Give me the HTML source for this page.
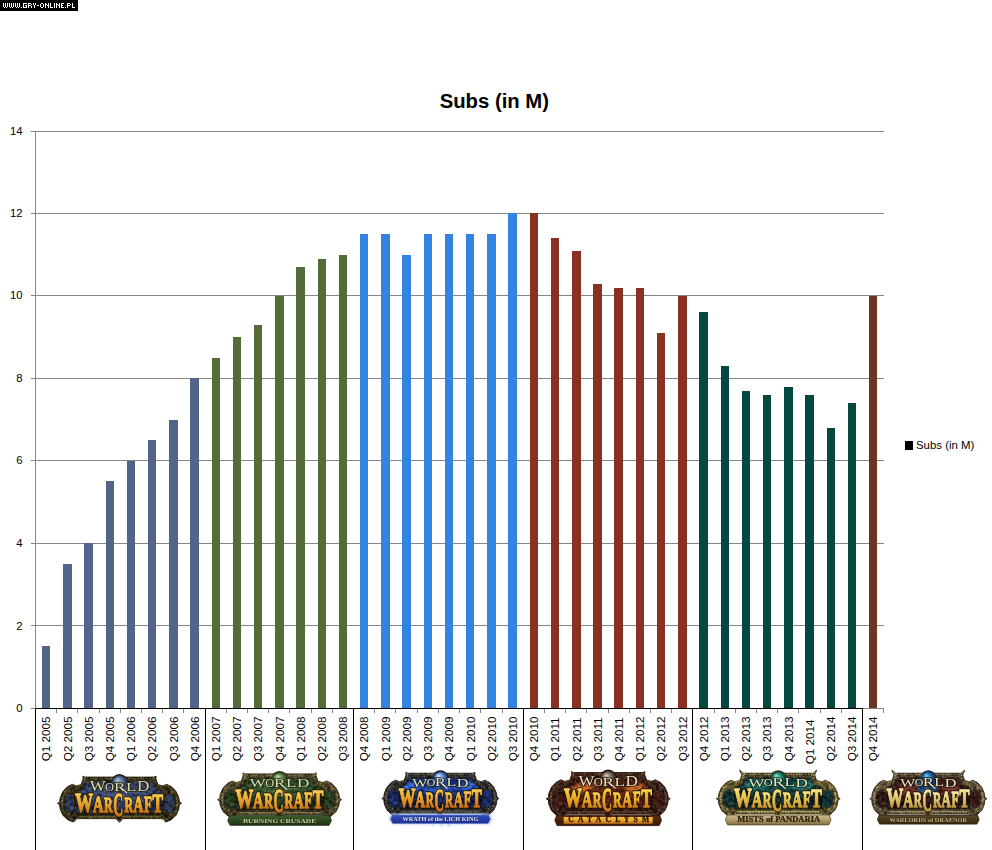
<!DOCTYPE html>
<html><head><meta charset="utf-8"><title>Subs (in M)</title>
<style>
html,body{margin:0;padding:0;background:#fff;}
body{width:992px;height:850px;overflow:hidden;font-family:"Liberation Sans",sans-serif;}
svg{display:block;}
text{font-family:"Liberation Sans",sans-serif;}
.ser, .ser text{font-family:"Liberation Serif",serif;}
</style></head><body>
<svg width="992" height="850" viewBox="0 0 992 850">
<defs><filter id="soft" x="-5%" y="-10%" width="110%" height="120%"><feGaussianBlur stdDeviation="0.5"/></filter><filter id="b1" x="-30%" y="-30%" width="160%" height="160%"><feGaussianBlur stdDeviation="1.2"/></filter><filter id="nz" x="0" y="0" width="100%" height="100%"><feTurbulence type="fractalNoise" baseFrequency="0.28 0.3" numOctaves="2" seed="7" result="n"/><feColorMatrix in="n" type="matrix" values="0 0 0 0 0  0 0 0 0 0  0 0 0 0 0  2.6 0 0 0 -0.95"/><feComposite in2="SourceAlpha" operator="in"/></filter><filter id="nz2" x="0" y="0" width="100%" height="100%"><feTurbulence type="fractalNoise" baseFrequency="0.33 0.3" numOctaves="2" seed="23" result="n"/><feColorMatrix in="n" type="matrix" values="0 0 0 0 1  0 0 0 0 1  0 0 0 0 1  0 2.6 0 0 -1.05"/><feComposite in2="SourceAlpha" operator="in"/></filter><filter id="b2" x="-30%" y="-30%" width="160%" height="160%"><feGaussianBlur stdDeviation="2.2"/></filter><linearGradient id="L1gold" x1="0" y1="0" x2="0" y2="1"><stop offset="0" stop-color="#fae288"/><stop offset="0.3" stop-color="#f2c040"/><stop offset="0.65" stop-color="#dc9222"/><stop offset="1" stop-color="#a05214"/></linearGradient><radialGradient id="L1field" cx="0.5" cy="0.32" r="0.62"><stop offset="0" stop-color="#4a5e90"/><stop offset="0.55" stop-color="#344472"/><stop offset="1" stop-color="#1a2240"/></radialGradient><linearGradient id="L1frame" x1="0" y1="0" x2="0" y2="1"><stop offset="0" stop-color="#3e3418"/><stop offset="0.5" stop-color="#2f2711"/><stop offset="1" stop-color="#28200d"/></linearGradient><radialGradient id="L1globe" cx="0.5" cy="0.5" r="0.5" fx="0.35" fy="0.28"><stop offset="0" stop-color="#b9c7dc"/><stop offset="0.5" stop-color="#62799f"/><stop offset="1" stop-color="#26324e"/></radialGradient><linearGradient id="L2gold" x1="0" y1="0" x2="0" y2="1"><stop offset="0" stop-color="#fae288"/><stop offset="0.3" stop-color="#f2c040"/><stop offset="0.65" stop-color="#dc9222"/><stop offset="1" stop-color="#a05214"/></linearGradient><radialGradient id="L2field" cx="0.5" cy="0.32" r="0.62"><stop offset="0" stop-color="#4c7636"/><stop offset="0.55" stop-color="#2a4c22"/><stop offset="1" stop-color="#12240d"/></radialGradient><linearGradient id="L2frame" x1="0" y1="0" x2="0" y2="1"><stop offset="0" stop-color="#5e5230"/><stop offset="0.5" stop-color="#4c4224"/><stop offset="1" stop-color="#3a321a"/></linearGradient><radialGradient id="L2globe" cx="0.5" cy="0.5" r="0.5" fx="0.35" fy="0.28"><stop offset="0" stop-color="#c6d8ae"/><stop offset="0.5" stop-color="#688c52"/><stop offset="1" stop-color="#26401e"/></radialGradient><linearGradient id="L2ban" x1="0" y1="0" x2="0" y2="1"><stop offset="0" stop-color="#3f602d"/><stop offset="1" stop-color="#1f3317"/></linearGradient><linearGradient id="L3gold" x1="0" y1="0" x2="0" y2="1"><stop offset="0" stop-color="#fae288"/><stop offset="0.3" stop-color="#f2bc40"/><stop offset="0.65" stop-color="#dc8a20"/><stop offset="1" stop-color="#a44e14"/></linearGradient><radialGradient id="L3field" cx="0.5" cy="0.32" r="0.62"><stop offset="0" stop-color="#2048b4"/><stop offset="0.5" stop-color="#122a7c"/><stop offset="1" stop-color="#0a133e"/></radialGradient><linearGradient id="L3frame" x1="0" y1="0" x2="0" y2="1"><stop offset="0" stop-color="#36322a"/><stop offset="0.5" stop-color="#2a2620"/><stop offset="1" stop-color="#201d19"/></linearGradient><radialGradient id="L3globe" cx="0.5" cy="0.5" r="0.5" fx="0.35" fy="0.28"><stop offset="0" stop-color="#e2ecff"/><stop offset="0.5" stop-color="#6a96dc"/><stop offset="1" stop-color="#1a357a"/></radialGradient><linearGradient id="L3ban" x1="0" y1="0" x2="0" y2="1"><stop offset="0" stop-color="#3352c0"/><stop offset="1" stop-color="#1b2c8c"/></linearGradient><linearGradient id="L4gold" x1="0" y1="0" x2="0" y2="1"><stop offset="0" stop-color="#fbe67c"/><stop offset="0.3" stop-color="#f4c638"/><stop offset="0.65" stop-color="#e0961c"/><stop offset="1" stop-color="#a65414"/></linearGradient><radialGradient id="L4field" cx="0.5" cy="0.32" r="0.62"><stop offset="0" stop-color="#7a2a12"/><stop offset="0.55" stop-color="#4e190c"/><stop offset="1" stop-color="#260c07"/></radialGradient><linearGradient id="L4frame" x1="0" y1="0" x2="0" y2="1"><stop offset="0" stop-color="#472614"/><stop offset="0.5" stop-color="#381c0f"/><stop offset="1" stop-color="#2b150b"/></linearGradient><radialGradient id="L4globe" cx="0.5" cy="0.5" r="0.5" fx="0.35" fy="0.28"><stop offset="0" stop-color="#d8d0c8"/><stop offset="0.5" stop-color="#80726a"/><stop offset="1" stop-color="#342824"/></radialGradient><linearGradient id="L4ban" x1="0" y1="0" x2="0" y2="1"><stop offset="0" stop-color="#5a2a10"/><stop offset="1" stop-color="#3a1808"/></linearGradient><linearGradient id="L4bani" x1="0" y1="0" x2="0" y2="1"><stop offset="0" stop-color="#f6c24a"/><stop offset="0.5" stop-color="#e8a22a"/><stop offset="1" stop-color="#b86a18"/></linearGradient><linearGradient id="L5gold" x1="0" y1="0" x2="0" y2="1"><stop offset="0" stop-color="#fff2b0"/><stop offset="0.35" stop-color="#f0d460"/><stop offset="0.7" stop-color="#d6a638"/><stop offset="1" stop-color="#967020"/></linearGradient><radialGradient id="L5field" cx="0.5" cy="0.32" r="0.62"><stop offset="0" stop-color="#14564f"/><stop offset="0.5" stop-color="#0a3637"/><stop offset="1" stop-color="#051a1c"/></radialGradient><linearGradient id="L5frame" x1="0" y1="0" x2="0" y2="1"><stop offset="0" stop-color="#463c1e"/><stop offset="0.3" stop-color="#6e5e2e"/><stop offset="1" stop-color="#54461f"/></linearGradient><radialGradient id="L5globe" cx="0.5" cy="0.5" r="0.5" fx="0.35" fy="0.28"><stop offset="0" stop-color="#98e8cc"/><stop offset="0.5" stop-color="#279680"/><stop offset="1" stop-color="#0a3c34"/></radialGradient><linearGradient id="L5ban" x1="0" y1="0" x2="0" y2="1"><stop offset="0" stop-color="#cdbb8c"/><stop offset="0.5" stop-color="#b29c6a"/><stop offset="1" stop-color="#806c42"/></linearGradient><linearGradient id="L6gold" x1="0" y1="0" x2="0" y2="1"><stop offset="0" stop-color="#fff6c4"/><stop offset="0.35" stop-color="#ecd884"/><stop offset="0.7" stop-color="#cfaa52"/><stop offset="1" stop-color="#8a6a2c"/></linearGradient><radialGradient id="L6field" cx="0.5" cy="0.32" r="0.62"><stop offset="0" stop-color="#5e261e"/><stop offset="0.55" stop-color="#3e1712"/><stop offset="1" stop-color="#1e0b09"/></radialGradient><linearGradient id="L6frame" x1="0" y1="0" x2="0" y2="1"><stop offset="0" stop-color="#463822"/><stop offset="0.3" stop-color="#6e5c38"/><stop offset="1" stop-color="#504026"/></linearGradient><radialGradient id="L6globe" cx="0.5" cy="0.5" r="0.5" fx="0.35" fy="0.28"><stop offset="0" stop-color="#80c8ec"/><stop offset="0.5" stop-color="#1a6ca4"/><stop offset="1" stop-color="#0a2c50"/></radialGradient><linearGradient id="L6ban" x1="0" y1="0" x2="0" y2="1"><stop offset="0" stop-color="#5c4a2c"/><stop offset="1" stop-color="#352810"/></linearGradient></defs>
<rect x="0" y="0" width="992" height="850" fill="#ffffff"/>
<g shape-rendering="crispEdges" stroke="#868686" stroke-width="1">
<line x1="31" y1="625.5" x2="884" y2="625.5"/>
<line x1="31" y1="543.5" x2="884" y2="543.5"/>
<line x1="31" y1="460.5" x2="884" y2="460.5"/>
<line x1="31" y1="378.5" x2="884" y2="378.5"/>
<line x1="31" y1="295.5" x2="884" y2="295.5"/>
<line x1="31" y1="213.5" x2="884" y2="213.5"/>
<line x1="31" y1="131.5" x2="884" y2="131.5"/>
<line x1="35.5" y1="131" x2="35.5" y2="708"/>
</g>
<g shape-rendering="crispEdges">
<rect x="42" y="646" width="8" height="62" fill="#53648a"/>
<rect x="63" y="564" width="9" height="144" fill="#53648a"/>
<rect x="84" y="543" width="9" height="165" fill="#53648a"/>
<rect x="106" y="481" width="8" height="227" fill="#53648a"/>
<rect x="127" y="461" width="8" height="247" fill="#53648a"/>
<rect x="148" y="440" width="8" height="268" fill="#53648a"/>
<rect x="169" y="420" width="9" height="288" fill="#53648a"/>
<rect x="190" y="378" width="9" height="330" fill="#53648a"/>
<rect x="212" y="358" width="8" height="350" fill="#536c39"/>
<rect x="233" y="337" width="8" height="371" fill="#536c39"/>
<rect x="254" y="325" width="8" height="383" fill="#536c39"/>
<rect x="275" y="296" width="9" height="412" fill="#536c39"/>
<rect x="296" y="267" width="9" height="441" fill="#536c39"/>
<rect x="318" y="259" width="8" height="449" fill="#536c39"/>
<rect x="339" y="255" width="8" height="453" fill="#536c39"/>
<rect x="360" y="234" width="8" height="474" fill="#3384e2"/>
<rect x="381" y="234" width="9" height="474" fill="#3384e2"/>
<rect x="402" y="255" width="9" height="453" fill="#3384e2"/>
<rect x="424" y="234" width="8" height="474" fill="#3384e2"/>
<rect x="445" y="234" width="8" height="474" fill="#3384e2"/>
<rect x="466" y="234" width="8" height="474" fill="#3384e2"/>
<rect x="487" y="234" width="9" height="474" fill="#3384e2"/>
<rect x="508" y="213" width="9" height="495" fill="#3384e2"/>
<rect x="530" y="213" width="8" height="495" fill="#8a3125"/>
<rect x="551" y="238" width="8" height="470" fill="#8a3125"/>
<rect x="572" y="251" width="9" height="457" fill="#8a3125"/>
<rect x="593" y="284" width="9" height="424" fill="#8a3125"/>
<rect x="614" y="288" width="9" height="420" fill="#8a3125"/>
<rect x="636" y="288" width="8" height="420" fill="#8a3125"/>
<rect x="657" y="333" width="8" height="375" fill="#8a3125"/>
<rect x="678" y="296" width="9" height="412" fill="#8a3125"/>
<rect x="699" y="312" width="9" height="396" fill="#04483f"/>
<rect x="721" y="366" width="8" height="342" fill="#04483f"/>
<rect x="742" y="391" width="8" height="317" fill="#04483f"/>
<rect x="763" y="395" width="8" height="313" fill="#04483f"/>
<rect x="784" y="387" width="9" height="321" fill="#04483f"/>
<rect x="805" y="395" width="9" height="313" fill="#04483f"/>
<rect x="827" y="428" width="8" height="280" fill="#04483f"/>
<rect x="848" y="403" width="8" height="305" fill="#04483f"/>
<rect x="869" y="296" width="8" height="412" fill="#6b3525"/>
</g>
<g shape-rendering="crispEdges">
<g stroke="#868686" stroke-width="1">
<line x1="35.5" y1="708" x2="35.5" y2="713"/>
<line x1="56.5" y1="708" x2="56.5" y2="713"/>
<line x1="77.5" y1="708" x2="77.5" y2="713"/>
<line x1="99.5" y1="708" x2="99.5" y2="713"/>
<line x1="120.5" y1="708" x2="120.5" y2="713"/>
<line x1="141.5" y1="708" x2="141.5" y2="713"/>
<line x1="162.5" y1="708" x2="162.5" y2="713"/>
<line x1="183.5" y1="708" x2="183.5" y2="713"/>
<line x1="205.5" y1="708" x2="205.5" y2="713"/>
<line x1="226.5" y1="708" x2="226.5" y2="713"/>
<line x1="247.5" y1="708" x2="247.5" y2="713"/>
<line x1="268.5" y1="708" x2="268.5" y2="713"/>
<line x1="289.5" y1="708" x2="289.5" y2="713"/>
<line x1="311.5" y1="708" x2="311.5" y2="713"/>
<line x1="332.5" y1="708" x2="332.5" y2="713"/>
<line x1="353.5" y1="708" x2="353.5" y2="713"/>
<line x1="374.5" y1="708" x2="374.5" y2="713"/>
<line x1="395.5" y1="708" x2="395.5" y2="713"/>
<line x1="417.5" y1="708" x2="417.5" y2="713"/>
<line x1="438.5" y1="708" x2="438.5" y2="713"/>
<line x1="459.5" y1="708" x2="459.5" y2="713"/>
<line x1="480.5" y1="708" x2="480.5" y2="713"/>
<line x1="502.5" y1="708" x2="502.5" y2="713"/>
<line x1="523.5" y1="708" x2="523.5" y2="713"/>
<line x1="544.5" y1="708" x2="544.5" y2="713"/>
<line x1="565.5" y1="708" x2="565.5" y2="713"/>
<line x1="586.5" y1="708" x2="586.5" y2="713"/>
<line x1="608.5" y1="708" x2="608.5" y2="713"/>
<line x1="629.5" y1="708" x2="629.5" y2="713"/>
<line x1="650.5" y1="708" x2="650.5" y2="713"/>
<line x1="671.5" y1="708" x2="671.5" y2="713"/>
<line x1="692.5" y1="708" x2="692.5" y2="713"/>
<line x1="714.5" y1="708" x2="714.5" y2="713"/>
<line x1="735.5" y1="708" x2="735.5" y2="713"/>
<line x1="756.5" y1="708" x2="756.5" y2="713"/>
<line x1="777.5" y1="708" x2="777.5" y2="713"/>
<line x1="798.5" y1="708" x2="798.5" y2="713"/>
<line x1="820.5" y1="708" x2="820.5" y2="713"/>
<line x1="841.5" y1="708" x2="841.5" y2="713"/>
<line x1="862.5" y1="708" x2="862.5" y2="713"/>
<line x1="883.5" y1="708" x2="883.5" y2="713"/>
</g>
<line x1="31" y1="708.5" x2="35" y2="708.5" stroke="#868686" stroke-width="1"/>
<line x1="35" y1="708.5" x2="884" y2="708.5" stroke="#868686" stroke-width="1"/>
<line x1="35" y1="708.5" x2="863" y2="708.5" stroke="#000" stroke-width="1"/>
<line x1="35.5" y1="708" x2="35.5" y2="850" stroke="#000" stroke-width="1"/>
<line x1="205.5" y1="708" x2="205.5" y2="850" stroke="#000" stroke-width="1"/>
<line x1="353.5" y1="708" x2="353.5" y2="850" stroke="#000" stroke-width="1"/>
<line x1="523.5" y1="708" x2="523.5" y2="850" stroke="#000" stroke-width="1"/>
<line x1="692.5" y1="708" x2="692.5" y2="850" stroke="#000" stroke-width="1"/>
<line x1="862.5" y1="708" x2="862.5" y2="850" stroke="#000" stroke-width="1"/>
</g>
<g font-size="11.3" fill="#000" text-anchor="end">
<text x="22.6" y="712.4">0</text>
<text x="22.6" y="630.1999999999999">2</text>
<text x="22.6" y="547.4">4</text>
<text x="22.6" y="464.4">6</text>
<text x="22.6" y="382.4">8</text>
<text x="22.6" y="299.4">10</text>
<text x="22.6" y="217.4">12</text>
<text x="22.6" y="135.4">14</text>
</g>
<g font-size="11.65" fill="#000">
<text transform="translate(50.40 761.3) rotate(-90)">Q1 2005</text>
<text transform="translate(71.61 761.3) rotate(-90)">Q2 2005</text>
<text transform="translate(92.81 761.3) rotate(-90)">Q3 2005</text>
<text transform="translate(114.02 761.3) rotate(-90)">Q4 2005</text>
<text transform="translate(135.22 761.3) rotate(-90)">Q1 2006</text>
<text transform="translate(156.43 761.3) rotate(-90)">Q2 2006</text>
<text transform="translate(177.63 761.3) rotate(-90)">Q3 2006</text>
<text transform="translate(198.84 761.3) rotate(-90)">Q4 2006</text>
<text transform="translate(220.04 761.3) rotate(-90)">Q1 2007</text>
<text transform="translate(241.25 761.3) rotate(-90)">Q2 2007</text>
<text transform="translate(262.45 761.3) rotate(-90)">Q3 2007</text>
<text transform="translate(283.66 761.3) rotate(-90)">Q4 2007</text>
<text transform="translate(304.86 761.3) rotate(-90)">Q1 2008</text>
<text transform="translate(326.07 761.3) rotate(-90)">Q2 2008</text>
<text transform="translate(347.27 761.3) rotate(-90)">Q3 2008</text>
<text transform="translate(368.48 761.3) rotate(-90)">Q4 2008</text>
<text transform="translate(389.68 761.3) rotate(-90)">Q1 2009</text>
<text transform="translate(410.89 761.3) rotate(-90)">Q2 2009</text>
<text transform="translate(432.09 761.3) rotate(-90)">Q3 2009</text>
<text transform="translate(453.30 761.3) rotate(-90)">Q4 2009</text>
<text transform="translate(474.50 761.3) rotate(-90)">Q1 2010</text>
<text transform="translate(495.71 761.3) rotate(-90)">Q2 2010</text>
<text transform="translate(516.91 761.3) rotate(-90)">Q3 2010</text>
<text transform="translate(538.12 761.3) rotate(-90)">Q4 2010</text>
<text transform="translate(559.32 761.3) rotate(-90)">Q1 2011</text>
<text transform="translate(580.53 761.3) rotate(-90)">Q2 2011</text>
<text transform="translate(601.73 761.3) rotate(-90)">Q3 2011</text>
<text transform="translate(622.94 761.3) rotate(-90)">Q4 2011</text>
<text transform="translate(644.14 761.3) rotate(-90)">Q1 2012</text>
<text transform="translate(665.35 761.3) rotate(-90)">Q2 2012</text>
<text transform="translate(686.55 761.3) rotate(-90)">Q3 2012</text>
<text transform="translate(707.76 761.3) rotate(-90)">Q4 2012</text>
<text transform="translate(728.96 761.3) rotate(-90)">Q1 2013</text>
<text transform="translate(750.17 761.3) rotate(-90)">Q2 2013</text>
<text transform="translate(771.37 761.3) rotate(-90)">Q3 2013</text>
<text transform="translate(792.58 761.3) rotate(-90)">Q4 2013</text>
<text transform="translate(813.78 764.3) rotate(-90)">Q1 2014</text>
<text transform="translate(834.99 761.3) rotate(-90)">Q2 2014</text>
<text transform="translate(856.19 761.3) rotate(-90)">Q3 2014</text>
<text transform="translate(877.40 761.3) rotate(-90)">Q4 2014</text>
</g>
<text x="494.3" y="107.8" font-size="20.3" font-weight="bold" text-anchor="middle" fill="#000">Subs (in M)</text>
<rect x="905" y="441" width="8" height="9" fill="#000" shape-rendering="crispEdges"/>
<text x="916" y="448.7" font-size="11.4" fill="#000">Subs (in M)</text>
<rect x="0" y="0" width="78" height="11" fill="#000" shape-rendering="crispEdges"/>
<path d="M3 3h1v1h-1zM5 3h1v1h-1zM7 3h1v1h-1zM3 4h1v1h-1zM5 4h1v1h-1zM7 4h1v1h-1zM3 5h1v1h-1zM5 5h1v1h-1zM7 5h1v1h-1zM3 6h1v1h-1zM5 6h1v1h-1zM7 6h1v1h-1zM4 7h1v1h-1zM6 7h1v1h-1zM9 3h1v1h-1zM11 3h1v1h-1zM13 3h1v1h-1zM9 4h1v1h-1zM11 4h1v1h-1zM13 4h1v1h-1zM9 5h1v1h-1zM11 5h1v1h-1zM13 5h1v1h-1zM9 6h1v1h-1zM11 6h1v1h-1zM13 6h1v1h-1zM10 7h1v1h-1zM12 7h1v1h-1zM15 3h1v1h-1zM17 3h1v1h-1zM19 3h1v1h-1zM15 4h1v1h-1zM17 4h1v1h-1zM19 4h1v1h-1zM15 5h1v1h-1zM17 5h1v1h-1zM19 5h1v1h-1zM15 6h1v1h-1zM17 6h1v1h-1zM19 6h1v1h-1zM16 7h1v1h-1zM18 7h1v1h-1zM21 7h1v1h-1zM23 3h1v1h-1zM24 3h1v1h-1zM25 3h1v1h-1zM26 3h1v1h-1zM23 4h1v1h-1zM23 5h1v1h-1zM25 5h1v1h-1zM26 5h1v1h-1zM23 6h1v1h-1zM26 6h1v1h-1zM23 7h1v1h-1zM24 7h1v1h-1zM25 7h1v1h-1zM26 7h1v1h-1zM28 3h1v1h-1zM29 3h1v1h-1zM30 3h1v1h-1zM28 4h1v1h-1zM31 4h1v1h-1zM28 5h1v1h-1zM29 5h1v1h-1zM30 5h1v1h-1zM28 6h1v1h-1zM31 6h1v1h-1zM28 7h1v1h-1zM31 7h1v1h-1zM33 3h1v1h-1zM35 3h1v1h-1zM33 4h1v1h-1zM35 4h1v1h-1zM34 5h1v1h-1zM34 6h1v1h-1zM34 7h1v1h-1zM37 5h1v1h-1zM38 5h1v1h-1zM41 3h1v1h-1zM42 3h1v1h-1zM40 4h1v1h-1zM43 4h1v1h-1zM40 5h1v1h-1zM43 5h1v1h-1zM40 6h1v1h-1zM43 6h1v1h-1zM41 7h1v1h-1zM42 7h1v1h-1zM45 3h1v1h-1zM48 3h1v1h-1zM45 4h1v1h-1zM46 4h1v1h-1zM48 4h1v1h-1zM45 5h1v1h-1zM47 5h1v1h-1zM48 5h1v1h-1zM45 6h1v1h-1zM48 6h1v1h-1zM45 7h1v1h-1zM48 7h1v1h-1zM50 3h1v1h-1zM50 4h1v1h-1zM50 5h1v1h-1zM50 6h1v1h-1zM50 7h1v1h-1zM51 7h1v1h-1zM52 7h1v1h-1zM54 3h1v1h-1zM54 4h1v1h-1zM54 5h1v1h-1zM54 6h1v1h-1zM54 7h1v1h-1zM56 3h1v1h-1zM59 3h1v1h-1zM56 4h1v1h-1zM57 4h1v1h-1zM59 4h1v1h-1zM56 5h1v1h-1zM58 5h1v1h-1zM59 5h1v1h-1zM56 6h1v1h-1zM59 6h1v1h-1zM56 7h1v1h-1zM59 7h1v1h-1zM61 3h1v1h-1zM62 3h1v1h-1zM63 3h1v1h-1zM61 4h1v1h-1zM61 5h1v1h-1zM62 5h1v1h-1zM61 6h1v1h-1zM61 7h1v1h-1zM62 7h1v1h-1zM63 7h1v1h-1zM65 7h1v1h-1zM67 3h1v1h-1zM68 3h1v1h-1zM69 3h1v1h-1zM67 4h1v1h-1zM70 4h1v1h-1zM67 5h1v1h-1zM68 5h1v1h-1zM69 5h1v1h-1zM67 6h1v1h-1zM67 7h1v1h-1zM72 3h1v1h-1zM72 4h1v1h-1zM72 5h1v1h-1zM72 6h1v1h-1zM72 7h1v1h-1zM73 7h1v1h-1zM74 7h1v1h-1z" fill="#fff" shape-rendering="crispEdges"/>
<g transform="translate(119.5 777.1) scale(1.0 1.0)" filter="url(#soft)">
<circle cx="0" cy="5.8" r="8.8" fill="#231c0b"/>
<path d="M0.0 0.0 L34.6 0.0 L36.6 -1.0 L36.4 1.8 L38.4 7.6 L43.5 8.8 L47.2 7.2 L52.0 9.6 L56.6 14.5 L59.3 20.6 L59.9 25.0 L62.0 26.2 L59.9 27.4 L59.3 32.0 L56.6 38.2 L51.5 42.8 L46.0 45.0 L44.2 42.0 L41.0 41.5 L3.4 41.5 L0.0 45.2 L-3.4 41.5 L-41.0 41.5 L-44.2 42.0 L-46.0 45.0 L-51.5 42.8 L-56.6 38.2 L-59.3 32.0 L-59.9 27.4 L-62.0 26.2 L-59.9 25.0 L-59.3 20.6 L-56.6 14.5 L-52.0 9.6 L-47.2 7.2 L-43.5 8.8 L-38.4 7.6 L-36.4 1.8 L-36.6 -1.0 L-34.6 0.0 Z" fill="url(#L1frame)" stroke="#231c0b" stroke-width="0.9" stroke-linejoin="round"/>
<path d="M0.0 0.0 L34.6 0.0 L36.6 -1.0 L36.4 1.8 L38.4 7.6 L43.5 8.8 L47.2 7.2 L52.0 9.6 L56.6 14.5 L59.3 20.6 L59.9 25.0 L62.0 26.2 L59.9 27.4 L59.3 32.0 L56.6 38.2 L51.5 42.8 L46.0 45.0 L44.2 42.0 L41.0 41.5 L3.4 41.5 L0.0 45.2 L-3.4 41.5 L-41.0 41.5 L-44.2 42.0 L-46.0 45.0 L-51.5 42.8 L-56.6 38.2 L-59.3 32.0 L-59.9 27.4 L-62.0 26.2 L-59.9 25.0 L-59.3 20.6 L-56.6 14.5 L-52.0 9.6 L-47.2 7.2 L-43.5 8.8 L-38.4 7.6 L-36.4 1.8 L-36.6 -1.0 L-34.6 0.0 Z" fill="none" stroke="#85733a" stroke-width="1.3" stroke-dasharray="1.7 1.4" transform="translate(0 1.15) scale(0.96 0.945)" opacity="0.75"/>
<ellipse cx="-53.2" cy="26.3" rx="4.4" ry="12.2" fill="none" stroke="#85733a" stroke-width="1.6" stroke-dasharray="2 1.2" opacity="0.675"/>
<ellipse cx="-49.6" cy="26.3" rx="5.6" ry="9.6" fill="#2c3a62" stroke="#231c0b" stroke-width="0.9"/>
<ellipse cx="53.2" cy="26.3" rx="4.4" ry="12.2" fill="none" stroke="#85733a" stroke-width="1.6" stroke-dasharray="2 1.2" opacity="0.675"/>
<ellipse cx="49.6" cy="26.3" rx="5.6" ry="9.6" fill="#2c3a62" stroke="#231c0b" stroke-width="0.9"/>
<path d="M0.0 4.4 L32.2 4.4 L33.6 6.0 L36.4 12.2 L42.4 13.6 L44.6 15.6 L45.0 36.6 L0.0 36.6 L-45.0 36.6 L-44.6 15.6 L-42.4 13.6 L-36.4 12.2 L-33.6 6.0 L-32.2 4.4 Z" fill="url(#L1field)" stroke="#231c0b" stroke-width="1.0"/>
<path d="M0.0 0.0 L34.6 0.0 L36.6 -1.0 L36.4 1.8 L38.4 7.6 L43.5 8.8 L47.2 7.2 L52.0 9.6 L56.6 14.5 L59.3 20.6 L59.9 25.0 L62.0 26.2 L59.9 27.4 L59.3 32.0 L56.6 38.2 L51.5 42.8 L46.0 45.0 L44.2 42.0 L41.0 41.5 L3.4 41.5 L0.0 45.2 L-3.4 41.5 L-41.0 41.5 L-44.2 42.0 L-46.0 45.0 L-51.5 42.8 L-56.6 38.2 L-59.3 32.0 L-59.9 27.4 L-62.0 26.2 L-59.9 25.0 L-59.3 20.6 L-56.6 14.5 L-52.0 9.6 L-47.2 7.2 L-43.5 8.8 L-38.4 7.6 L-36.4 1.8 L-36.6 -1.0 L-34.6 0.0 Z" fill="#000" filter="url(#nz)" opacity="0.55"/>
<path d="M0.0 0.0 L34.6 0.0 L36.6 -1.0 L36.4 1.8 L38.4 7.6 L43.5 8.8 L47.2 7.2 L52.0 9.6 L56.6 14.5 L59.3 20.6 L59.9 25.0 L62.0 26.2 L59.9 27.4 L59.3 32.0 L56.6 38.2 L51.5 42.8 L46.0 45.0 L44.2 42.0 L41.0 41.5 L3.4 41.5 L0.0 45.2 L-3.4 41.5 L-41.0 41.5 L-44.2 42.0 L-46.0 45.0 L-51.5 42.8 L-56.6 38.2 L-59.3 32.0 L-59.9 27.4 L-62.0 26.2 L-59.9 25.0 L-59.3 20.6 L-56.6 14.5 L-52.0 9.6 L-47.2 7.2 L-43.5 8.8 L-38.4 7.6 L-36.4 1.8 L-36.6 -1.0 L-34.6 0.0 Z" fill="#fff" filter="url(#nz2)" opacity="0.16"/>
<rect x="-41" y="38.7" width="82" height="1.1" fill="#85733a" opacity="0.675"/>
<circle cx="0" cy="5.8" r="7.6" fill="url(#L1globe)"/>
<g class="ser" fill="#d9d9ac" stroke="#25251a" stroke-width="1.7" paint-order="stroke" stroke-linejoin="round">
<text x="-29.8" y="13.8" font-size="13.7" textLength="16.0" lengthAdjust="spacingAndGlyphs">W</text>
<text x="-14.4" y="13.6" font-size="11.6" textLength="9.0" lengthAdjust="spacingAndGlyphs">O</text>
<text x="-5.6" y="13.6" font-size="12.2" textLength="11.4" lengthAdjust="spacingAndGlyphs">R</text>
<text x="6.4" y="13.6" font-size="12.2" textLength="10.4" lengthAdjust="spacingAndGlyphs">L</text>
<text x="17.4" y="13.8" font-size="13.7" textLength="12.4" lengthAdjust="spacingAndGlyphs">D</text>
</g>
<path d="M2.4 11.4 L7.4 15.8" stroke="#d9d9ac" stroke-width="1.2" fill="none"/>
<g class="ser" font-weight="bold" fill="#2e1c0a" stroke="#2e1c0a" stroke-width="3.6" stroke-linejoin="round">
<text x="-44.199999999999996" y="34.9" font-size="27.3" textLength="17.8" lengthAdjust="spacingAndGlyphs">W</text>
<text x="-26.5" y="34.9" font-size="23.3" textLength="10.5" lengthAdjust="spacingAndGlyphs">A</text>
<text x="-15.4" y="34.9" font-size="21.4" textLength="8.6" lengthAdjust="spacingAndGlyphs">R</text>
<text x="-6.2" y="38.8" font-size="33.2" textLength="9.9" lengthAdjust="spacingAndGlyphs">C</text>
<text x="4.8999999999999995" y="34.9" font-size="21.4" textLength="8.6" lengthAdjust="spacingAndGlyphs">R</text>
<text x="14.1" y="34.9" font-size="22.7" textLength="9.9" lengthAdjust="spacingAndGlyphs">A</text>
<text x="24.6" y="34.9" font-size="23.9" textLength="7.9" lengthAdjust="spacingAndGlyphs">F</text>
<text x="33.1" y="34.9" font-size="25.3" textLength="10.6" lengthAdjust="spacingAndGlyphs">T</text>
</g>
<g class="ser" font-weight="bold" fill="url(#L1gold)" stroke="url(#L1gold)" stroke-width="1.3" stroke-linejoin="round">
<text x="-44.199999999999996" y="34.9" font-size="27.3" textLength="17.8" lengthAdjust="spacingAndGlyphs">W</text>
<text x="-26.5" y="34.9" font-size="23.3" textLength="10.5" lengthAdjust="spacingAndGlyphs">A</text>
<text x="-15.4" y="34.9" font-size="21.4" textLength="8.6" lengthAdjust="spacingAndGlyphs">R</text>
<text x="-6.2" y="38.8" font-size="33.2" textLength="9.9" lengthAdjust="spacingAndGlyphs">C</text>
<text x="4.8999999999999995" y="34.9" font-size="21.4" textLength="8.6" lengthAdjust="spacingAndGlyphs">R</text>
<text x="14.1" y="34.9" font-size="22.7" textLength="9.9" lengthAdjust="spacingAndGlyphs">A</text>
<text x="24.6" y="34.9" font-size="23.9" textLength="7.9" lengthAdjust="spacingAndGlyphs">F</text>
<text x="33.1" y="34.9" font-size="25.3" textLength="10.6" lengthAdjust="spacingAndGlyphs">T</text>
</g>
</g>
<g transform="translate(279.6 773.9) scale(1.0 0.985)" filter="url(#soft)">
<circle cx="0" cy="5.8" r="8.8" fill="#2a230f"/>
<path d="M0.0 0.0 L34.6 0.0 L36.6 -1.0 L36.4 1.8 L38.4 7.6 L43.5 8.8 L47.2 7.2 L52.0 9.6 L56.6 14.5 L59.3 20.6 L59.9 25.0 L62.0 26.2 L59.9 27.4 L59.3 32.0 L56.6 38.2 L51.5 42.8 L46.0 45.0 L44.2 42.0 L41.0 41.5 L3.4 41.5 L0.0 45.2 L-3.4 41.5 L-41.0 41.5 L-44.2 42.0 L-46.0 45.0 L-51.5 42.8 L-56.6 38.2 L-59.3 32.0 L-59.9 27.4 L-62.0 26.2 L-59.9 25.0 L-59.3 20.6 L-56.6 14.5 L-52.0 9.6 L-47.2 7.2 L-43.5 8.8 L-38.4 7.6 L-36.4 1.8 L-36.6 -1.0 L-34.6 0.0 Z" fill="url(#L2frame)" stroke="#2a230f" stroke-width="0.9" stroke-linejoin="round"/>
<path d="M0.0 0.0 L34.6 0.0 L36.6 -1.0 L36.4 1.8 L38.4 7.6 L43.5 8.8 L47.2 7.2 L52.0 9.6 L56.6 14.5 L59.3 20.6 L59.9 25.0 L62.0 26.2 L59.9 27.4 L59.3 32.0 L56.6 38.2 L51.5 42.8 L46.0 45.0 L44.2 42.0 L41.0 41.5 L3.4 41.5 L0.0 45.2 L-3.4 41.5 L-41.0 41.5 L-44.2 42.0 L-46.0 45.0 L-51.5 42.8 L-56.6 38.2 L-59.3 32.0 L-59.9 27.4 L-62.0 26.2 L-59.9 25.0 L-59.3 20.6 L-56.6 14.5 L-52.0 9.6 L-47.2 7.2 L-43.5 8.8 L-38.4 7.6 L-36.4 1.8 L-36.6 -1.0 L-34.6 0.0 Z" fill="none" stroke="#9a8a54" stroke-width="1.3" stroke-dasharray="1.7 1.4" transform="translate(0 1.15) scale(0.96 0.945)" opacity="0.8"/>
<ellipse cx="-53.2" cy="26.3" rx="4.4" ry="12.2" fill="none" stroke="#9a8a54" stroke-width="1.6" stroke-dasharray="2 1.2" opacity="0.7200000000000001"/>
<ellipse cx="-49.6" cy="26.3" rx="5.6" ry="9.6" fill="#24401c" stroke="#2a230f" stroke-width="0.9"/>
<ellipse cx="53.2" cy="26.3" rx="4.4" ry="12.2" fill="none" stroke="#9a8a54" stroke-width="1.6" stroke-dasharray="2 1.2" opacity="0.7200000000000001"/>
<ellipse cx="49.6" cy="26.3" rx="5.6" ry="9.6" fill="#24401c" stroke="#2a230f" stroke-width="0.9"/>
<path d="M0.0 4.4 L32.2 4.4 L33.6 6.0 L36.4 12.2 L42.4 13.6 L44.6 15.6 L45.0 36.6 L0.0 36.6 L-45.0 36.6 L-44.6 15.6 L-42.4 13.6 L-36.4 12.2 L-33.6 6.0 L-32.2 4.4 Z" fill="url(#L2field)" stroke="#2a230f" stroke-width="1.0"/>
<path d="M0.0 0.0 L34.6 0.0 L36.6 -1.0 L36.4 1.8 L38.4 7.6 L43.5 8.8 L47.2 7.2 L52.0 9.6 L56.6 14.5 L59.3 20.6 L59.9 25.0 L62.0 26.2 L59.9 27.4 L59.3 32.0 L56.6 38.2 L51.5 42.8 L46.0 45.0 L44.2 42.0 L41.0 41.5 L3.4 41.5 L0.0 45.2 L-3.4 41.5 L-41.0 41.5 L-44.2 42.0 L-46.0 45.0 L-51.5 42.8 L-56.6 38.2 L-59.3 32.0 L-59.9 27.4 L-62.0 26.2 L-59.9 25.0 L-59.3 20.6 L-56.6 14.5 L-52.0 9.6 L-47.2 7.2 L-43.5 8.8 L-38.4 7.6 L-36.4 1.8 L-36.6 -1.0 L-34.6 0.0 Z" fill="#000" filter="url(#nz)" opacity="0.55"/>
<path d="M0.0 0.0 L34.6 0.0 L36.6 -1.0 L36.4 1.8 L38.4 7.6 L43.5 8.8 L47.2 7.2 L52.0 9.6 L56.6 14.5 L59.3 20.6 L59.9 25.0 L62.0 26.2 L59.9 27.4 L59.3 32.0 L56.6 38.2 L51.5 42.8 L46.0 45.0 L44.2 42.0 L41.0 41.5 L3.4 41.5 L0.0 45.2 L-3.4 41.5 L-41.0 41.5 L-44.2 42.0 L-46.0 45.0 L-51.5 42.8 L-56.6 38.2 L-59.3 32.0 L-59.9 27.4 L-62.0 26.2 L-59.9 25.0 L-59.3 20.6 L-56.6 14.5 L-52.0 9.6 L-47.2 7.2 L-43.5 8.8 L-38.4 7.6 L-36.4 1.8 L-36.6 -1.0 L-34.6 0.0 Z" fill="#fff" filter="url(#nz2)" opacity="0.16"/>
<rect x="-41" y="38.7" width="82" height="1.1" fill="#9a8a54" opacity="0.7200000000000001"/>
<circle cx="0" cy="5.8" r="7.6" fill="url(#L2globe)"/>
<g class="ser" fill="#d8dcae" stroke="#1f2c16" stroke-width="1.7" paint-order="stroke" stroke-linejoin="round">
<text x="-29.8" y="13.8" font-size="13.7" textLength="16.0" lengthAdjust="spacingAndGlyphs">W</text>
<text x="-14.4" y="13.6" font-size="11.6" textLength="9.0" lengthAdjust="spacingAndGlyphs">O</text>
<text x="-5.6" y="13.6" font-size="12.2" textLength="11.4" lengthAdjust="spacingAndGlyphs">R</text>
<text x="6.4" y="13.6" font-size="12.2" textLength="10.4" lengthAdjust="spacingAndGlyphs">L</text>
<text x="17.4" y="13.8" font-size="13.7" textLength="12.4" lengthAdjust="spacingAndGlyphs">D</text>
</g>
<path d="M2.4 11.4 L7.4 15.8" stroke="#d8dcae" stroke-width="1.2" fill="none"/>
<g class="ser" font-weight="bold" fill="#2e1c0a" stroke="#2e1c0a" stroke-width="3.6" stroke-linejoin="round">
<text x="-44.199999999999996" y="34.9" font-size="27.3" textLength="17.8" lengthAdjust="spacingAndGlyphs">W</text>
<text x="-26.5" y="34.9" font-size="23.3" textLength="10.5" lengthAdjust="spacingAndGlyphs">A</text>
<text x="-15.4" y="34.9" font-size="21.4" textLength="8.6" lengthAdjust="spacingAndGlyphs">R</text>
<text x="-6.2" y="38.8" font-size="33.2" textLength="9.9" lengthAdjust="spacingAndGlyphs">C</text>
<text x="4.8999999999999995" y="34.9" font-size="21.4" textLength="8.6" lengthAdjust="spacingAndGlyphs">R</text>
<text x="14.1" y="34.9" font-size="22.7" textLength="9.9" lengthAdjust="spacingAndGlyphs">A</text>
<text x="24.6" y="34.9" font-size="23.9" textLength="7.9" lengthAdjust="spacingAndGlyphs">F</text>
<text x="33.1" y="34.9" font-size="25.3" textLength="10.6" lengthAdjust="spacingAndGlyphs">T</text>
</g>
<g class="ser" font-weight="bold" fill="url(#L2gold)" stroke="url(#L2gold)" stroke-width="1.3" stroke-linejoin="round">
<text x="-44.199999999999996" y="34.9" font-size="27.3" textLength="17.8" lengthAdjust="spacingAndGlyphs">W</text>
<text x="-26.5" y="34.9" font-size="23.3" textLength="10.5" lengthAdjust="spacingAndGlyphs">A</text>
<text x="-15.4" y="34.9" font-size="21.4" textLength="8.6" lengthAdjust="spacingAndGlyphs">R</text>
<text x="-6.2" y="38.8" font-size="33.2" textLength="9.9" lengthAdjust="spacingAndGlyphs">C</text>
<text x="4.8999999999999995" y="34.9" font-size="21.4" textLength="8.6" lengthAdjust="spacingAndGlyphs">R</text>
<text x="14.1" y="34.9" font-size="22.7" textLength="9.9" lengthAdjust="spacingAndGlyphs">A</text>
<text x="24.6" y="34.9" font-size="23.9" textLength="7.9" lengthAdjust="spacingAndGlyphs">F</text>
<text x="33.1" y="34.9" font-size="25.3" textLength="10.6" lengthAdjust="spacingAndGlyphs">T</text>
</g>
<path d="M-50 42.4 L50 42.4 L51.8 47.3 L49.5 52.2 L-49.5 52.2 L-51.8 47.3 Z" fill="url(#L2ban)" stroke="#17260f" stroke-width="0.8"/>
<text class="ser" font-weight="bold" x="-36.5" y="49.6" font-size="7.0" textLength="73.0" lengthAdjust="spacingAndGlyphs" fill="#c6d29e" stroke="#16220e" stroke-width="0.5" paint-order="stroke">BURNING CRUSADE</text>
</g>
<g transform="translate(440.4 773.2) scale(0.945 0.965)" filter="url(#soft)">
<circle cx="0" cy="5.8" r="8.8" fill="#1b1917"/>
<path d="M0.0 0.0 L34.6 0.0 L36.6 -1.0 L36.4 1.8 L38.4 7.6 L43.5 8.8 L47.2 7.2 L52.0 9.6 L56.6 14.5 L59.3 20.6 L59.9 25.0 L62.0 26.2 L59.9 27.4 L59.3 32.0 L56.6 38.2 L51.5 42.8 L46.0 45.0 L44.2 42.0 L41.0 41.5 L3.4 41.5 L0.0 45.2 L-3.4 41.5 L-41.0 41.5 L-44.2 42.0 L-46.0 45.0 L-51.5 42.8 L-56.6 38.2 L-59.3 32.0 L-59.9 27.4 L-62.0 26.2 L-59.9 25.0 L-59.3 20.6 L-56.6 14.5 L-52.0 9.6 L-47.2 7.2 L-43.5 8.8 L-38.4 7.6 L-36.4 1.8 L-36.6 -1.0 L-34.6 0.0 Z" fill="url(#L3frame)" stroke="#1b1917" stroke-width="0.9" stroke-linejoin="round"/>
<path d="M0.0 0.0 L34.6 0.0 L36.6 -1.0 L36.4 1.8 L38.4 7.6 L43.5 8.8 L47.2 7.2 L52.0 9.6 L56.6 14.5 L59.3 20.6 L59.9 25.0 L62.0 26.2 L59.9 27.4 L59.3 32.0 L56.6 38.2 L51.5 42.8 L46.0 45.0 L44.2 42.0 L41.0 41.5 L3.4 41.5 L0.0 45.2 L-3.4 41.5 L-41.0 41.5 L-44.2 42.0 L-46.0 45.0 L-51.5 42.8 L-56.6 38.2 L-59.3 32.0 L-59.9 27.4 L-62.0 26.2 L-59.9 25.0 L-59.3 20.6 L-56.6 14.5 L-52.0 9.6 L-47.2 7.2 L-43.5 8.8 L-38.4 7.6 L-36.4 1.8 L-36.6 -1.0 L-34.6 0.0 Z" fill="none" stroke="#8c866e" stroke-width="1.3" stroke-dasharray="1.7 1.4" transform="translate(0 1.15) scale(0.96 0.945)" opacity="0.6"/>
<ellipse cx="-53.2" cy="26.3" rx="4.4" ry="12.2" fill="none" stroke="#8c866e" stroke-width="1.6" stroke-dasharray="2 1.2" opacity="0.54"/>
<ellipse cx="-49.6" cy="26.3" rx="5.6" ry="9.6" fill="#142a78" stroke="#1b1917" stroke-width="0.9"/>
<ellipse cx="53.2" cy="26.3" rx="4.4" ry="12.2" fill="none" stroke="#8c866e" stroke-width="1.6" stroke-dasharray="2 1.2" opacity="0.54"/>
<ellipse cx="49.6" cy="26.3" rx="5.6" ry="9.6" fill="#142a78" stroke="#1b1917" stroke-width="0.9"/>
<path d="M0.0 4.4 L32.2 4.4 L33.6 6.0 L36.4 12.2 L42.4 13.6 L44.6 15.6 L45.0 36.6 L0.0 36.6 L-45.0 36.6 L-44.6 15.6 L-42.4 13.6 L-36.4 12.2 L-33.6 6.0 L-32.2 4.4 Z" fill="url(#L3field)" stroke="#1b1917" stroke-width="1.0"/>
<clipPath id="L3clip"><path d="M0.0 4.4 L32.2 4.4 L33.6 6.0 L36.4 12.2 L42.4 13.6 L44.6 15.6 L45.0 36.6 L0.0 36.6 L-45.0 36.6 L-44.6 15.6 L-42.4 13.6 L-36.4 12.2 L-33.6 6.0 L-32.2 4.4 Z"/></clipPath>
<g clip-path="url(#L3clip)">
<ellipse cx="-30" cy="14" rx="9" ry="5" fill="#2f66ea" filter="url(#b1)"/>
<ellipse cx="30" cy="14" rx="9" ry="5" fill="#2f66ea" filter="url(#b1)"/>
<ellipse cx="0" cy="17" rx="20" ry="3" fill="#2a5ad8" filter="url(#b1)" opacity="0.8"/>
</g>
<path d="M0.0 0.0 L34.6 0.0 L36.6 -1.0 L36.4 1.8 L38.4 7.6 L43.5 8.8 L47.2 7.2 L52.0 9.6 L56.6 14.5 L59.3 20.6 L59.9 25.0 L62.0 26.2 L59.9 27.4 L59.3 32.0 L56.6 38.2 L51.5 42.8 L46.0 45.0 L44.2 42.0 L41.0 41.5 L3.4 41.5 L0.0 45.2 L-3.4 41.5 L-41.0 41.5 L-44.2 42.0 L-46.0 45.0 L-51.5 42.8 L-56.6 38.2 L-59.3 32.0 L-59.9 27.4 L-62.0 26.2 L-59.9 25.0 L-59.3 20.6 L-56.6 14.5 L-52.0 9.6 L-47.2 7.2 L-43.5 8.8 L-38.4 7.6 L-36.4 1.8 L-36.6 -1.0 L-34.6 0.0 Z" fill="#000" filter="url(#nz)" opacity="0.55"/>
<path d="M0.0 0.0 L34.6 0.0 L36.6 -1.0 L36.4 1.8 L38.4 7.6 L43.5 8.8 L47.2 7.2 L52.0 9.6 L56.6 14.5 L59.3 20.6 L59.9 25.0 L62.0 26.2 L59.9 27.4 L59.3 32.0 L56.6 38.2 L51.5 42.8 L46.0 45.0 L44.2 42.0 L41.0 41.5 L3.4 41.5 L0.0 45.2 L-3.4 41.5 L-41.0 41.5 L-44.2 42.0 L-46.0 45.0 L-51.5 42.8 L-56.6 38.2 L-59.3 32.0 L-59.9 27.4 L-62.0 26.2 L-59.9 25.0 L-59.3 20.6 L-56.6 14.5 L-52.0 9.6 L-47.2 7.2 L-43.5 8.8 L-38.4 7.6 L-36.4 1.8 L-36.6 -1.0 L-34.6 0.0 Z" fill="#fff" filter="url(#nz2)" opacity="0.16"/>
<rect x="-41" y="38.7" width="82" height="1.1" fill="#8c866e" opacity="0.54"/>
<circle cx="0" cy="5.8" r="7.6" fill="url(#L3globe)"/>
<g class="ser" fill="#e0e8b8" stroke="#161f3a" stroke-width="1.7" paint-order="stroke" stroke-linejoin="round">
<text x="-29.8" y="13.8" font-size="13.7" textLength="16.0" lengthAdjust="spacingAndGlyphs">W</text>
<text x="-14.4" y="13.6" font-size="11.6" textLength="9.0" lengthAdjust="spacingAndGlyphs">O</text>
<text x="-5.6" y="13.6" font-size="12.2" textLength="11.4" lengthAdjust="spacingAndGlyphs">R</text>
<text x="6.4" y="13.6" font-size="12.2" textLength="10.4" lengthAdjust="spacingAndGlyphs">L</text>
<text x="17.4" y="13.8" font-size="13.7" textLength="12.4" lengthAdjust="spacingAndGlyphs">D</text>
</g>
<path d="M2.4 11.4 L7.4 15.8" stroke="#e0e8b8" stroke-width="1.2" fill="none"/>
<g class="ser" font-weight="bold" fill="#24140c" stroke="#24140c" stroke-width="3.6" stroke-linejoin="round">
<text x="-44.199999999999996" y="34.9" font-size="27.3" textLength="17.8" lengthAdjust="spacingAndGlyphs">W</text>
<text x="-26.5" y="34.9" font-size="23.3" textLength="10.5" lengthAdjust="spacingAndGlyphs">A</text>
<text x="-15.4" y="34.9" font-size="21.4" textLength="8.6" lengthAdjust="spacingAndGlyphs">R</text>
<text x="-6.2" y="38.8" font-size="33.2" textLength="9.9" lengthAdjust="spacingAndGlyphs">C</text>
<text x="4.8999999999999995" y="34.9" font-size="21.4" textLength="8.6" lengthAdjust="spacingAndGlyphs">R</text>
<text x="14.1" y="34.9" font-size="22.7" textLength="9.9" lengthAdjust="spacingAndGlyphs">A</text>
<text x="24.6" y="34.9" font-size="23.9" textLength="7.9" lengthAdjust="spacingAndGlyphs">F</text>
<text x="33.1" y="34.9" font-size="25.3" textLength="10.6" lengthAdjust="spacingAndGlyphs">T</text>
</g>
<g class="ser" font-weight="bold" fill="url(#L3gold)" stroke="url(#L3gold)" stroke-width="1.3" stroke-linejoin="round">
<text x="-44.199999999999996" y="34.9" font-size="27.3" textLength="17.8" lengthAdjust="spacingAndGlyphs">W</text>
<text x="-26.5" y="34.9" font-size="23.3" textLength="10.5" lengthAdjust="spacingAndGlyphs">A</text>
<text x="-15.4" y="34.9" font-size="21.4" textLength="8.6" lengthAdjust="spacingAndGlyphs">R</text>
<text x="-6.2" y="38.8" font-size="33.2" textLength="9.9" lengthAdjust="spacingAndGlyphs">C</text>
<text x="4.8999999999999995" y="34.9" font-size="21.4" textLength="8.6" lengthAdjust="spacingAndGlyphs">R</text>
<text x="14.1" y="34.9" font-size="22.7" textLength="9.9" lengthAdjust="spacingAndGlyphs">A</text>
<text x="24.6" y="34.9" font-size="23.9" textLength="7.9" lengthAdjust="spacingAndGlyphs">F</text>
<text x="33.1" y="34.9" font-size="25.3" textLength="10.6" lengthAdjust="spacingAndGlyphs">T</text>
</g>
<path d="M-52 42.0 L52 42.0 L55 47 L52.5 53.2 L30 52.6 L22 53.4 L12 52.6 L9 56.4 L7 52.8 L3 53 L1.5 56.8 L-0.5 53 L-6 53 L-7.5 55.8 L-9.5 52.8 L-30 53.2 L-51 53.0 L-55 47 Z" fill="#b9ccf2" filter="url(#b1)" opacity="0.9"/>
<path d="M-51 43.2 L51 43.2 L52.8 47.6 L50.5 52.0 L-50.5 52.0 L-52.8 47.6 Z" fill="url(#L3ban)" stroke="#5a78d0" stroke-width="0.6"/>
<text class="ser" font-weight="bold" x="-40" y="49.4" font-size="7.2" textLength="80" lengthAdjust="spacingAndGlyphs" fill="#e4ecff" stroke="#0f1850" stroke-width="0.5" paint-order="stroke">WRATH of the LICH KING</text>
</g>
<g transform="translate(608.2 772.6) scale(1.0 1.0)" filter="url(#soft)">
<circle cx="0" cy="5.8" r="8.8" fill="#241009"/>
<path d="M0.0 0.0 L34.6 0.0 L36.6 -1.0 L36.4 1.8 L38.4 7.6 L43.5 8.8 L47.2 7.2 L52.0 9.6 L56.6 14.5 L59.3 20.6 L59.9 25.0 L62.0 26.2 L59.9 27.4 L59.3 32.0 L56.6 38.2 L51.5 42.8 L46.0 45.0 L44.2 42.0 L41.0 41.5 L3.4 41.5 L0.0 45.2 L-3.4 41.5 L-41.0 41.5 L-44.2 42.0 L-46.0 45.0 L-51.5 42.8 L-56.6 38.2 L-59.3 32.0 L-59.9 27.4 L-62.0 26.2 L-59.9 25.0 L-59.3 20.6 L-56.6 14.5 L-52.0 9.6 L-47.2 7.2 L-43.5 8.8 L-38.4 7.6 L-36.4 1.8 L-36.6 -1.0 L-34.6 0.0 Z" fill="url(#L4frame)" stroke="#241009" stroke-width="0.9" stroke-linejoin="round"/>
<path d="M0.0 0.0 L34.6 0.0 L36.6 -1.0 L36.4 1.8 L38.4 7.6 L43.5 8.8 L47.2 7.2 L52.0 9.6 L56.6 14.5 L59.3 20.6 L59.9 25.0 L62.0 26.2 L59.9 27.4 L59.3 32.0 L56.6 38.2 L51.5 42.8 L46.0 45.0 L44.2 42.0 L41.0 41.5 L3.4 41.5 L0.0 45.2 L-3.4 41.5 L-41.0 41.5 L-44.2 42.0 L-46.0 45.0 L-51.5 42.8 L-56.6 38.2 L-59.3 32.0 L-59.9 27.4 L-62.0 26.2 L-59.9 25.0 L-59.3 20.6 L-56.6 14.5 L-52.0 9.6 L-47.2 7.2 L-43.5 8.8 L-38.4 7.6 L-36.4 1.8 L-36.6 -1.0 L-34.6 0.0 Z" fill="none" stroke="#88553a" stroke-width="1.3" stroke-dasharray="1.7 1.4" transform="translate(0 1.15) scale(0.96 0.945)" opacity="0.7"/>
<ellipse cx="-53.2" cy="26.3" rx="4.4" ry="12.2" fill="none" stroke="#88553a" stroke-width="1.6" stroke-dasharray="2 1.2" opacity="0.63"/>
<ellipse cx="-49.6" cy="26.3" rx="5.6" ry="9.6" fill="#451a0e" stroke="#241009" stroke-width="0.9"/>
<ellipse cx="53.2" cy="26.3" rx="4.4" ry="12.2" fill="none" stroke="#88553a" stroke-width="1.6" stroke-dasharray="2 1.2" opacity="0.63"/>
<ellipse cx="49.6" cy="26.3" rx="5.6" ry="9.6" fill="#451a0e" stroke="#241009" stroke-width="0.9"/>
<path d="M0.0 4.4 L32.2 4.4 L33.6 6.0 L36.4 12.2 L42.4 13.6 L44.6 15.6 L45.0 36.6 L0.0 36.6 L-45.0 36.6 L-44.6 15.6 L-42.4 13.6 L-36.4 12.2 L-33.6 6.0 L-32.2 4.4 Z" fill="url(#L4field)" stroke="#241009" stroke-width="1.0"/>
<clipPath id="L4clip"><path d="M0.0 4.4 L32.2 4.4 L33.6 6.0 L36.4 12.2 L42.4 13.6 L44.6 15.6 L45.0 36.6 L0.0 36.6 L-45.0 36.6 L-44.6 15.6 L-42.4 13.6 L-36.4 12.2 L-33.6 6.0 L-32.2 4.4 Z"/></clipPath>
<g clip-path="url(#L4clip)">
<ellipse cx="-26" cy="15.5" rx="11" ry="4.2" fill="#e8701e" filter="url(#b1)" transform="rotate(-12 -26 15.5)"/>
<ellipse cx="27" cy="16" rx="11" ry="4" fill="#e06a1c" filter="url(#b1)" transform="rotate(-10 27 16)"/>
<ellipse cx="0" cy="28" rx="44" ry="8" fill="#6a2410" filter="url(#b2)" opacity="0.7"/>
</g>
<path d="M0.0 0.0 L34.6 0.0 L36.6 -1.0 L36.4 1.8 L38.4 7.6 L43.5 8.8 L47.2 7.2 L52.0 9.6 L56.6 14.5 L59.3 20.6 L59.9 25.0 L62.0 26.2 L59.9 27.4 L59.3 32.0 L56.6 38.2 L51.5 42.8 L46.0 45.0 L44.2 42.0 L41.0 41.5 L3.4 41.5 L0.0 45.2 L-3.4 41.5 L-41.0 41.5 L-44.2 42.0 L-46.0 45.0 L-51.5 42.8 L-56.6 38.2 L-59.3 32.0 L-59.9 27.4 L-62.0 26.2 L-59.9 25.0 L-59.3 20.6 L-56.6 14.5 L-52.0 9.6 L-47.2 7.2 L-43.5 8.8 L-38.4 7.6 L-36.4 1.8 L-36.6 -1.0 L-34.6 0.0 Z" fill="#000" filter="url(#nz)" opacity="0.55"/>
<path d="M0.0 0.0 L34.6 0.0 L36.6 -1.0 L36.4 1.8 L38.4 7.6 L43.5 8.8 L47.2 7.2 L52.0 9.6 L56.6 14.5 L59.3 20.6 L59.9 25.0 L62.0 26.2 L59.9 27.4 L59.3 32.0 L56.6 38.2 L51.5 42.8 L46.0 45.0 L44.2 42.0 L41.0 41.5 L3.4 41.5 L0.0 45.2 L-3.4 41.5 L-41.0 41.5 L-44.2 42.0 L-46.0 45.0 L-51.5 42.8 L-56.6 38.2 L-59.3 32.0 L-59.9 27.4 L-62.0 26.2 L-59.9 25.0 L-59.3 20.6 L-56.6 14.5 L-52.0 9.6 L-47.2 7.2 L-43.5 8.8 L-38.4 7.6 L-36.4 1.8 L-36.6 -1.0 L-34.6 0.0 Z" fill="#fff" filter="url(#nz2)" opacity="0.16"/>
<rect x="-41" y="38.7" width="82" height="1.1" fill="#88553a" opacity="0.63"/>
<circle cx="0" cy="5.8" r="7.6" fill="url(#L4globe)"/>
<g class="ser" fill="#e8e0bc" stroke="#2c160c" stroke-width="1.7" paint-order="stroke" stroke-linejoin="round">
<text x="-29.8" y="13.8" font-size="13.7" textLength="16.0" lengthAdjust="spacingAndGlyphs">W</text>
<text x="-14.4" y="13.6" font-size="11.6" textLength="9.0" lengthAdjust="spacingAndGlyphs">O</text>
<text x="-5.6" y="13.6" font-size="12.2" textLength="11.4" lengthAdjust="spacingAndGlyphs">R</text>
<text x="6.4" y="13.6" font-size="12.2" textLength="10.4" lengthAdjust="spacingAndGlyphs">L</text>
<text x="17.4" y="13.8" font-size="13.7" textLength="12.4" lengthAdjust="spacingAndGlyphs">D</text>
</g>
<path d="M2.4 11.4 L7.4 15.8" stroke="#e8e0bc" stroke-width="1.2" fill="none"/>
<g class="ser" font-weight="bold" fill="#2e1208" stroke="#2e1208" stroke-width="3.6" stroke-linejoin="round">
<text x="-44.199999999999996" y="34.9" font-size="27.3" textLength="17.8" lengthAdjust="spacingAndGlyphs">W</text>
<text x="-26.5" y="34.9" font-size="23.3" textLength="10.5" lengthAdjust="spacingAndGlyphs">A</text>
<text x="-15.4" y="34.9" font-size="21.4" textLength="8.6" lengthAdjust="spacingAndGlyphs">R</text>
<text x="-6.2" y="38.8" font-size="33.2" textLength="9.9" lengthAdjust="spacingAndGlyphs">C</text>
<text x="4.8999999999999995" y="34.9" font-size="21.4" textLength="8.6" lengthAdjust="spacingAndGlyphs">R</text>
<text x="14.1" y="34.9" font-size="22.7" textLength="9.9" lengthAdjust="spacingAndGlyphs">A</text>
<text x="24.6" y="34.9" font-size="23.9" textLength="7.9" lengthAdjust="spacingAndGlyphs">F</text>
<text x="33.1" y="34.9" font-size="25.3" textLength="10.6" lengthAdjust="spacingAndGlyphs">T</text>
</g>
<g class="ser" font-weight="bold" fill="url(#L4gold)" stroke="url(#L4gold)" stroke-width="1.3" stroke-linejoin="round">
<text x="-44.199999999999996" y="34.9" font-size="27.3" textLength="17.8" lengthAdjust="spacingAndGlyphs">W</text>
<text x="-26.5" y="34.9" font-size="23.3" textLength="10.5" lengthAdjust="spacingAndGlyphs">A</text>
<text x="-15.4" y="34.9" font-size="21.4" textLength="8.6" lengthAdjust="spacingAndGlyphs">R</text>
<text x="-6.2" y="38.8" font-size="33.2" textLength="9.9" lengthAdjust="spacingAndGlyphs">C</text>
<text x="4.8999999999999995" y="34.9" font-size="21.4" textLength="8.6" lengthAdjust="spacingAndGlyphs">R</text>
<text x="14.1" y="34.9" font-size="22.7" textLength="9.9" lengthAdjust="spacingAndGlyphs">A</text>
<text x="24.6" y="34.9" font-size="23.9" textLength="7.9" lengthAdjust="spacingAndGlyphs">F</text>
<text x="33.1" y="34.9" font-size="25.3" textLength="10.6" lengthAdjust="spacingAndGlyphs">T</text>
</g>
<path d="M-51.5 42.6 L51.5 42.6 L53.3 47.8 L51.0 53.0 L-51.0 53.0 L-53.3 47.8 Z" fill="url(#L4ban)" stroke="#2a1006" stroke-width="0.8"/>
<rect x="-44.5" y="44.4" width="89.0" height="6.800000000000004" fill="url(#L4bani)"/>
<text class="ser" font-weight="bold" x="-40" y="49.8" font-size="7.6" textLength="81" lengthAdjust="spacing" fill="#2a1206" stroke="#2a1206" stroke-width="0.3" paint-order="stroke">CATACLYSM</text>
</g>
<g transform="translate(778.2 773.2) scale(1.0 0.975)" filter="url(#soft)">
<circle cx="0" cy="5.8" r="8.8" fill="#3a3014"/>
<path d="M0.0 0.0 L34.6 0.0 L38.6 -3.2 L36.4 1.8 L38.4 7.6 L43.5 8.8 L47.2 7.2 L52.0 9.6 L56.6 14.5 L59.3 20.6 L59.9 25.0 L62.0 26.2 L59.9 27.4 L59.3 32.0 L56.6 38.2 L51.5 42.8 L46.0 45.0 L44.2 42.0 L41.0 41.5 L3.4 41.5 L0.0 45.2 L-3.4 41.5 L-41.0 41.5 L-44.2 42.0 L-46.0 45.0 L-51.5 42.8 L-56.6 38.2 L-59.3 32.0 L-59.9 27.4 L-62.0 26.2 L-59.9 25.0 L-59.3 20.6 L-56.6 14.5 L-52.0 9.6 L-47.2 7.2 L-43.5 8.8 L-38.4 7.6 L-36.4 1.8 L-38.6 -3.2 L-34.6 0.0 Z" fill="url(#L5frame)" stroke="#3a3014" stroke-width="0.9" stroke-linejoin="round"/>
<path d="M0.0 0.0 L34.6 0.0 L38.6 -3.2 L36.4 1.8 L38.4 7.6 L43.5 8.8 L47.2 7.2 L52.0 9.6 L56.6 14.5 L59.3 20.6 L59.9 25.0 L62.0 26.2 L59.9 27.4 L59.3 32.0 L56.6 38.2 L51.5 42.8 L46.0 45.0 L44.2 42.0 L41.0 41.5 L3.4 41.5 L0.0 45.2 L-3.4 41.5 L-41.0 41.5 L-44.2 42.0 L-46.0 45.0 L-51.5 42.8 L-56.6 38.2 L-59.3 32.0 L-59.9 27.4 L-62.0 26.2 L-59.9 25.0 L-59.3 20.6 L-56.6 14.5 L-52.0 9.6 L-47.2 7.2 L-43.5 8.8 L-38.4 7.6 L-36.4 1.8 L-38.6 -3.2 L-34.6 0.0 Z" fill="none" stroke="#c9b670" stroke-width="1.3" stroke-dasharray="1.7 1.4" transform="translate(0 1.15) scale(0.96 0.945)" opacity="0.9"/>
<ellipse cx="-53.2" cy="26.3" rx="4.4" ry="12.2" fill="none" stroke="#c9b670" stroke-width="1.6" stroke-dasharray="2 1.2" opacity="0.81"/>
<ellipse cx="-49.6" cy="26.3" rx="5.6" ry="9.6" fill="#0a3234" stroke="#3a3014" stroke-width="0.9"/>
<ellipse cx="53.2" cy="26.3" rx="4.4" ry="12.2" fill="none" stroke="#c9b670" stroke-width="1.6" stroke-dasharray="2 1.2" opacity="0.81"/>
<ellipse cx="49.6" cy="26.3" rx="5.6" ry="9.6" fill="#0a3234" stroke="#3a3014" stroke-width="0.9"/>
<path d="M0.0 4.4 L32.2 4.4 L33.6 6.0 L36.4 12.2 L42.4 13.6 L44.6 15.6 L45.0 36.6 L0.0 36.6 L-45.0 36.6 L-44.6 15.6 L-42.4 13.6 L-36.4 12.2 L-33.6 6.0 L-32.2 4.4 Z" fill="url(#L5field)" stroke="#3a3014" stroke-width="1.0"/>
<clipPath id="L5clip"><path d="M0.0 4.4 L32.2 4.4 L33.6 6.0 L36.4 12.2 L42.4 13.6 L44.6 15.6 L45.0 36.6 L0.0 36.6 L-45.0 36.6 L-44.6 15.6 L-42.4 13.6 L-36.4 12.2 L-33.6 6.0 L-32.2 4.4 Z"/></clipPath>
<g clip-path="url(#L5clip)">
<ellipse cx="-22" cy="12" rx="12" ry="6" fill="#1f7f74" filter="url(#b1)" opacity="0.9"/>
<ellipse cx="24" cy="13" rx="12" ry="6" fill="#1c766c" filter="url(#b1)" opacity="0.9"/>
</g>
<path d="M0.0 0.0 L34.6 0.0 L38.6 -3.2 L36.4 1.8 L38.4 7.6 L43.5 8.8 L47.2 7.2 L52.0 9.6 L56.6 14.5 L59.3 20.6 L59.9 25.0 L62.0 26.2 L59.9 27.4 L59.3 32.0 L56.6 38.2 L51.5 42.8 L46.0 45.0 L44.2 42.0 L41.0 41.5 L3.4 41.5 L0.0 45.2 L-3.4 41.5 L-41.0 41.5 L-44.2 42.0 L-46.0 45.0 L-51.5 42.8 L-56.6 38.2 L-59.3 32.0 L-59.9 27.4 L-62.0 26.2 L-59.9 25.0 L-59.3 20.6 L-56.6 14.5 L-52.0 9.6 L-47.2 7.2 L-43.5 8.8 L-38.4 7.6 L-36.4 1.8 L-38.6 -3.2 L-34.6 0.0 Z" fill="#000" filter="url(#nz)" opacity="0.55"/>
<path d="M0.0 0.0 L34.6 0.0 L38.6 -3.2 L36.4 1.8 L38.4 7.6 L43.5 8.8 L47.2 7.2 L52.0 9.6 L56.6 14.5 L59.3 20.6 L59.9 25.0 L62.0 26.2 L59.9 27.4 L59.3 32.0 L56.6 38.2 L51.5 42.8 L46.0 45.0 L44.2 42.0 L41.0 41.5 L3.4 41.5 L0.0 45.2 L-3.4 41.5 L-41.0 41.5 L-44.2 42.0 L-46.0 45.0 L-51.5 42.8 L-56.6 38.2 L-59.3 32.0 L-59.9 27.4 L-62.0 26.2 L-59.9 25.0 L-59.3 20.6 L-56.6 14.5 L-52.0 9.6 L-47.2 7.2 L-43.5 8.8 L-38.4 7.6 L-36.4 1.8 L-38.6 -3.2 L-34.6 0.0 Z" fill="#fff" filter="url(#nz2)" opacity="0.16"/>
<rect x="-41" y="38.7" width="82" height="1.1" fill="#c9b670" opacity="0.81"/>
<circle cx="0" cy="5.8" r="7.6" fill="url(#L5globe)"/>
<g class="ser" fill="#dfe8ba" stroke="#122c28" stroke-width="1.7" paint-order="stroke" stroke-linejoin="round">
<text x="-29.8" y="13.8" font-size="13.7" textLength="16.0" lengthAdjust="spacingAndGlyphs">W</text>
<text x="-14.4" y="13.6" font-size="11.6" textLength="9.0" lengthAdjust="spacingAndGlyphs">O</text>
<text x="-5.6" y="13.6" font-size="12.2" textLength="11.4" lengthAdjust="spacingAndGlyphs">R</text>
<text x="6.4" y="13.6" font-size="12.2" textLength="10.4" lengthAdjust="spacingAndGlyphs">L</text>
<text x="17.4" y="13.8" font-size="13.7" textLength="12.4" lengthAdjust="spacingAndGlyphs">D</text>
</g>
<path d="M2.4 11.4 L7.4 15.8" stroke="#dfe8ba" stroke-width="1.2" fill="none"/>
<g class="ser" font-weight="bold" fill="#241f0e" stroke="#241f0e" stroke-width="3.6" stroke-linejoin="round">
<text x="-44.199999999999996" y="34.9" font-size="27.3" textLength="17.8" lengthAdjust="spacingAndGlyphs">W</text>
<text x="-26.5" y="34.9" font-size="23.3" textLength="10.5" lengthAdjust="spacingAndGlyphs">A</text>
<text x="-15.4" y="34.9" font-size="21.4" textLength="8.6" lengthAdjust="spacingAndGlyphs">R</text>
<text x="-6.2" y="38.8" font-size="33.2" textLength="9.9" lengthAdjust="spacingAndGlyphs">C</text>
<text x="4.8999999999999995" y="34.9" font-size="21.4" textLength="8.6" lengthAdjust="spacingAndGlyphs">R</text>
<text x="14.1" y="34.9" font-size="22.7" textLength="9.9" lengthAdjust="spacingAndGlyphs">A</text>
<text x="24.6" y="34.9" font-size="23.9" textLength="7.9" lengthAdjust="spacingAndGlyphs">F</text>
<text x="33.1" y="34.9" font-size="25.3" textLength="10.6" lengthAdjust="spacingAndGlyphs">T</text>
</g>
<g class="ser" font-weight="bold" fill="url(#L5gold)" stroke="url(#L5gold)" stroke-width="1.3" stroke-linejoin="round">
<text x="-44.199999999999996" y="34.9" font-size="27.3" textLength="17.8" lengthAdjust="spacingAndGlyphs">W</text>
<text x="-26.5" y="34.9" font-size="23.3" textLength="10.5" lengthAdjust="spacingAndGlyphs">A</text>
<text x="-15.4" y="34.9" font-size="21.4" textLength="8.6" lengthAdjust="spacingAndGlyphs">R</text>
<text x="-6.2" y="38.8" font-size="33.2" textLength="9.9" lengthAdjust="spacingAndGlyphs">C</text>
<text x="4.8999999999999995" y="34.9" font-size="21.4" textLength="8.6" lengthAdjust="spacingAndGlyphs">R</text>
<text x="14.1" y="34.9" font-size="22.7" textLength="9.9" lengthAdjust="spacingAndGlyphs">A</text>
<text x="24.6" y="34.9" font-size="23.9" textLength="7.9" lengthAdjust="spacingAndGlyphs">F</text>
<text x="33.1" y="34.9" font-size="25.3" textLength="10.6" lengthAdjust="spacingAndGlyphs">T</text>
</g>
<path d="M-51 42.8 L51 42.8 L52.8 47.9 L50.5 53.0 L-50.5 53.0 L-52.8 47.9 Z" fill="url(#L5ban)" stroke="#5a4a26" stroke-width="0.8"/>
<text class="ser" font-weight="bold" x="-41" y="50.4" font-size="7.6" textLength="83" lengthAdjust="spacingAndGlyphs" fill="#28220e" stroke="#28220e" stroke-width="0.25" paint-order="stroke">MISTS of PANDARIA</text>
</g>
<g transform="translate(928.3 773.2) scale(0.945 0.975)" filter="url(#soft)">
<circle cx="0" cy="5.8" r="8.8" fill="#36291a"/>
<path d="M0.0 0.0 L34.6 0.0 L38.6 -3.2 L36.4 1.8 L38.4 7.6 L43.5 8.8 L47.2 7.2 L52.0 9.6 L56.6 14.5 L59.3 20.6 L59.9 25.0 L62.0 26.2 L59.9 27.4 L59.3 32.0 L56.6 38.2 L51.5 42.8 L46.0 45.0 L44.2 42.0 L41.0 41.5 L3.4 41.5 L0.0 45.2 L-3.4 41.5 L-41.0 41.5 L-44.2 42.0 L-46.0 45.0 L-51.5 42.8 L-56.6 38.2 L-59.3 32.0 L-59.9 27.4 L-62.0 26.2 L-59.9 25.0 L-59.3 20.6 L-56.6 14.5 L-52.0 9.6 L-47.2 7.2 L-43.5 8.8 L-38.4 7.6 L-36.4 1.8 L-38.6 -3.2 L-34.6 0.0 Z" fill="url(#L6frame)" stroke="#36291a" stroke-width="0.9" stroke-linejoin="round"/>
<path d="M0.0 0.0 L34.6 0.0 L38.6 -3.2 L36.4 1.8 L38.4 7.6 L43.5 8.8 L47.2 7.2 L52.0 9.6 L56.6 14.5 L59.3 20.6 L59.9 25.0 L62.0 26.2 L59.9 27.4 L59.3 32.0 L56.6 38.2 L51.5 42.8 L46.0 45.0 L44.2 42.0 L41.0 41.5 L3.4 41.5 L0.0 45.2 L-3.4 41.5 L-41.0 41.5 L-44.2 42.0 L-46.0 45.0 L-51.5 42.8 L-56.6 38.2 L-59.3 32.0 L-59.9 27.4 L-62.0 26.2 L-59.9 25.0 L-59.3 20.6 L-56.6 14.5 L-52.0 9.6 L-47.2 7.2 L-43.5 8.8 L-38.4 7.6 L-36.4 1.8 L-38.6 -3.2 L-34.6 0.0 Z" fill="none" stroke="#b4a070" stroke-width="1.3" stroke-dasharray="1.7 1.4" transform="translate(0 1.15) scale(0.96 0.945)" opacity="0.85"/>
<ellipse cx="-53.2" cy="26.3" rx="4.4" ry="12.2" fill="none" stroke="#b4a070" stroke-width="1.6" stroke-dasharray="2 1.2" opacity="0.765"/>
<ellipse cx="-49.6" cy="26.3" rx="5.6" ry="9.6" fill="#341410" stroke="#36291a" stroke-width="0.9"/>
<ellipse cx="53.2" cy="26.3" rx="4.4" ry="12.2" fill="none" stroke="#b4a070" stroke-width="1.6" stroke-dasharray="2 1.2" opacity="0.765"/>
<ellipse cx="49.6" cy="26.3" rx="5.6" ry="9.6" fill="#341410" stroke="#36291a" stroke-width="0.9"/>
<path d="M0.0 4.4 L32.2 4.4 L33.6 6.0 L36.4 12.2 L42.4 13.6 L44.6 15.6 L45.0 36.6 L0.0 36.6 L-45.0 36.6 L-44.6 15.6 L-42.4 13.6 L-36.4 12.2 L-33.6 6.0 L-32.2 4.4 Z" fill="url(#L6field)" stroke="#36291a" stroke-width="1.0"/>
<clipPath id="L6clip"><path d="M0.0 4.4 L32.2 4.4 L33.6 6.0 L36.4 12.2 L42.4 13.6 L44.6 15.6 L45.0 36.6 L0.0 36.6 L-45.0 36.6 L-44.6 15.6 L-42.4 13.6 L-36.4 12.2 L-33.6 6.0 L-32.2 4.4 Z"/></clipPath>
<g clip-path="url(#L6clip)">
<circle cx="-1" cy="11" r="11.5" fill="#17568c" filter="url(#b1)"/>
<ellipse cx="-24" cy="17" rx="9" ry="4" fill="#8a3a2e" filter="url(#b1)" opacity="0.9"/>
<ellipse cx="24" cy="17" rx="9" ry="4" fill="#8a3a2e" filter="url(#b1)" opacity="0.9"/>
</g>
<path d="M0.0 0.0 L34.6 0.0 L38.6 -3.2 L36.4 1.8 L38.4 7.6 L43.5 8.8 L47.2 7.2 L52.0 9.6 L56.6 14.5 L59.3 20.6 L59.9 25.0 L62.0 26.2 L59.9 27.4 L59.3 32.0 L56.6 38.2 L51.5 42.8 L46.0 45.0 L44.2 42.0 L41.0 41.5 L3.4 41.5 L0.0 45.2 L-3.4 41.5 L-41.0 41.5 L-44.2 42.0 L-46.0 45.0 L-51.5 42.8 L-56.6 38.2 L-59.3 32.0 L-59.9 27.4 L-62.0 26.2 L-59.9 25.0 L-59.3 20.6 L-56.6 14.5 L-52.0 9.6 L-47.2 7.2 L-43.5 8.8 L-38.4 7.6 L-36.4 1.8 L-38.6 -3.2 L-34.6 0.0 Z" fill="#000" filter="url(#nz)" opacity="0.55"/>
<path d="M0.0 0.0 L34.6 0.0 L38.6 -3.2 L36.4 1.8 L38.4 7.6 L43.5 8.8 L47.2 7.2 L52.0 9.6 L56.6 14.5 L59.3 20.6 L59.9 25.0 L62.0 26.2 L59.9 27.4 L59.3 32.0 L56.6 38.2 L51.5 42.8 L46.0 45.0 L44.2 42.0 L41.0 41.5 L3.4 41.5 L0.0 45.2 L-3.4 41.5 L-41.0 41.5 L-44.2 42.0 L-46.0 45.0 L-51.5 42.8 L-56.6 38.2 L-59.3 32.0 L-59.9 27.4 L-62.0 26.2 L-59.9 25.0 L-59.3 20.6 L-56.6 14.5 L-52.0 9.6 L-47.2 7.2 L-43.5 8.8 L-38.4 7.6 L-36.4 1.8 L-38.6 -3.2 L-34.6 0.0 Z" fill="#fff" filter="url(#nz2)" opacity="0.16"/>
<rect x="-41" y="38.7" width="82" height="1.1" fill="#b4a070" opacity="0.765"/>
<circle cx="0" cy="5.8" r="8.2" fill="url(#L6globe)"/>
<g class="ser" fill="#ebe4c6" stroke="#26140f" stroke-width="1.7" paint-order="stroke" stroke-linejoin="round">
<text x="-29.8" y="13.8" font-size="13.7" textLength="16.0" lengthAdjust="spacingAndGlyphs">W</text>
<text x="-14.4" y="13.6" font-size="11.6" textLength="9.0" lengthAdjust="spacingAndGlyphs">O</text>
<text x="-5.6" y="13.6" font-size="12.2" textLength="11.4" lengthAdjust="spacingAndGlyphs">R</text>
<text x="6.4" y="13.6" font-size="12.2" textLength="10.4" lengthAdjust="spacingAndGlyphs">L</text>
<text x="17.4" y="13.8" font-size="13.7" textLength="12.4" lengthAdjust="spacingAndGlyphs">D</text>
</g>
<path d="M2.4 11.4 L7.4 15.8" stroke="#ebe4c6" stroke-width="1.2" fill="none"/>
<g class="ser" font-weight="bold" fill="#261a10" stroke="#261a10" stroke-width="3.6" stroke-linejoin="round">
<text x="-44.199999999999996" y="34.9" font-size="27.3" textLength="17.8" lengthAdjust="spacingAndGlyphs">W</text>
<text x="-26.5" y="34.9" font-size="23.3" textLength="10.5" lengthAdjust="spacingAndGlyphs">A</text>
<text x="-15.4" y="34.9" font-size="21.4" textLength="8.6" lengthAdjust="spacingAndGlyphs">R</text>
<text x="-6.2" y="38.8" font-size="33.2" textLength="9.9" lengthAdjust="spacingAndGlyphs">C</text>
<text x="4.8999999999999995" y="34.9" font-size="21.4" textLength="8.6" lengthAdjust="spacingAndGlyphs">R</text>
<text x="14.1" y="34.9" font-size="22.7" textLength="9.9" lengthAdjust="spacingAndGlyphs">A</text>
<text x="24.6" y="34.9" font-size="23.9" textLength="7.9" lengthAdjust="spacingAndGlyphs">F</text>
<text x="33.1" y="34.9" font-size="25.3" textLength="10.6" lengthAdjust="spacingAndGlyphs">T</text>
</g>
<g class="ser" font-weight="bold" fill="url(#L6gold)" stroke="url(#L6gold)" stroke-width="1.3" stroke-linejoin="round">
<text x="-44.199999999999996" y="34.9" font-size="27.3" textLength="17.8" lengthAdjust="spacingAndGlyphs">W</text>
<text x="-26.5" y="34.9" font-size="23.3" textLength="10.5" lengthAdjust="spacingAndGlyphs">A</text>
<text x="-15.4" y="34.9" font-size="21.4" textLength="8.6" lengthAdjust="spacingAndGlyphs">R</text>
<text x="-6.2" y="38.8" font-size="33.2" textLength="9.9" lengthAdjust="spacingAndGlyphs">C</text>
<text x="4.8999999999999995" y="34.9" font-size="21.4" textLength="8.6" lengthAdjust="spacingAndGlyphs">R</text>
<text x="14.1" y="34.9" font-size="22.7" textLength="9.9" lengthAdjust="spacingAndGlyphs">A</text>
<text x="24.6" y="34.9" font-size="23.9" textLength="7.9" lengthAdjust="spacingAndGlyphs">F</text>
<text x="33.1" y="34.9" font-size="25.3" textLength="10.6" lengthAdjust="spacingAndGlyphs">T</text>
</g>
<path d="M-52 42.8 L52 42.8 L53.8 47.5 L51.5 52.2 L-51.5 52.2 L-53.8 47.5 Z" fill="url(#L6ban)" stroke="#241a0a" stroke-width="0.8"/>
<text class="ser" font-weight="bold" x="-41" y="49.6" font-size="7.0" textLength="82" lengthAdjust="spacingAndGlyphs" fill="#c4b484" stroke="#1c1408" stroke-width="0.5" paint-order="stroke">WARLORDS of DRAENOR</text>
</g>
</svg></body></html>
